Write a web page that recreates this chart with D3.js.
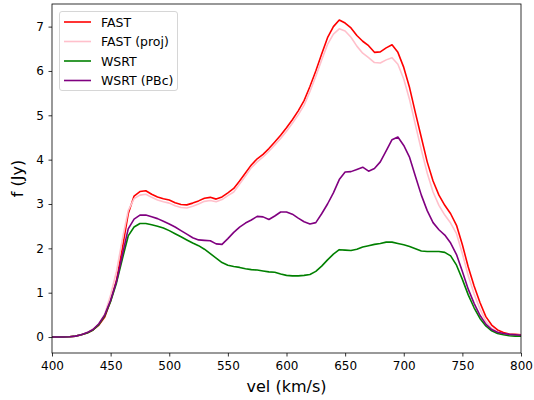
<!DOCTYPE html>
<html><head><meta charset="utf-8">
<script src="https://cdn.jsdelivr.net/npm/d3@7"></script>
<style>body{margin:0;background:#fff}svg{display:block;font-family:"DejaVu Sans",sans-serif}</style>
</head><body><svg id="c" width="534" height="400"></svg>
<script>
const vel = d3.range(400, 801, 5);
const fast = [0,0,0,0.005,0.02,0.05,0.09,0.16,0.27,0.45,0.82,1.28,2.0,2.78,3.18,3.28,3.30,3.22,3.16,3.12,3.09,3.03,2.99,2.98,3.02,3.07,3.13,3.15,3.11,3.16,3.25,3.35,3.52,3.70,3.88,4.02,4.12,4.25,4.40,4.55,4.72,4.90,5.10,5.33,5.65,6.00,6.38,6.75,7.00,7.15,7.08,6.97,6.80,6.67,6.57,6.42,6.43,6.52,6.59,6.42,6.08,5.62,5.05,4.50,3.95,3.52,3.20,2.97,2.78,2.52,2.08,1.58,1.15,0.78,0.46,0.27,0.16,0.10,0.07,0.06,0.05];
const fastProj = [0,0,0,0.005,0.02,0.05,0.10,0.18,0.30,0.52,0.95,1.48,2.2,2.85,3.12,3.20,3.22,3.15,3.09,3.05,3.02,2.96,2.92,2.91,2.95,3.00,3.06,3.08,3.05,3.10,3.19,3.27,3.45,3.63,3.82,3.95,4.06,4.19,4.33,4.48,4.64,4.82,5.01,5.23,5.54,5.88,6.25,6.60,6.83,6.95,6.90,6.76,6.56,6.40,6.30,6.19,6.18,6.25,6.30,6.15,5.82,5.35,4.78,4.22,3.70,3.27,2.97,2.75,2.57,2.33,1.88,1.38,0.97,0.63,0.36,0.20,0.11,0.07,0.05,0.04,0.04];
const wsrt = [0,0,0,0.005,0.02,0.05,0.09,0.16,0.28,0.48,0.80,1.22,1.76,2.28,2.48,2.56,2.56,2.53,2.50,2.46,2.40,2.33,2.26,2.19,2.12,2.06,1.98,1.88,1.78,1.68,1.62,1.59,1.57,1.54,1.52,1.51,1.49,1.47,1.46,1.42,1.39,1.38,1.38,1.39,1.41,1.48,1.60,1.74,1.87,1.97,1.96,1.95,1.98,2.03,2.06,2.09,2.11,2.14,2.14,2.11,2.08,2.04,1.99,1.94,1.93,1.93,1.93,1.91,1.83,1.62,1.30,0.95,0.66,0.42,0.25,0.14,0.08,0.05,0.03,0.02,0.02];
const wsrtPBc = [0,0,0,0.005,0.02,0.05,0.10,0.17,0.30,0.50,0.83,1.25,1.85,2.44,2.66,2.75,2.75,2.71,2.67,2.61,2.55,2.48,2.40,2.32,2.24,2.19,2.18,2.17,2.10,2.09,2.22,2.36,2.48,2.57,2.64,2.72,2.71,2.65,2.73,2.82,2.82,2.77,2.68,2.60,2.55,2.58,2.78,3.00,3.25,3.55,3.72,3.73,3.78,3.83,3.74,3.80,3.95,4.20,4.45,4.51,4.32,4.05,3.62,3.20,2.85,2.58,2.42,2.30,2.12,1.86,1.48,1.08,0.76,0.49,0.29,0.17,0.11,0.08,0.06,0.05,0.04];
const seriesNames = ["FAST","FAST (proj)","WSRT","WSRT (PBc)"];
const seriesColors = ["red","pink","green","purple"];
const xTicks = [400,450,500,550,600,650,700,750,800];
const yTicks = [0,1,2,3,4,5,6,7];

const svg = d3.select("#c");
const m = {l:52, r:13, t:4, b:47};
const W = 534, H = 400;
const x = d3.scaleLinear().domain([400,800]).range([m.l, W-m.r]);
const y = d3.scaleLinear().domain([-0.36,7.51]).range([H-m.b, m.t]);

const data = [fast, fastProj, wsrt, wsrtPBc];
const line = d3.line().x((d,i)=>x(vel[i])).y(d=>y(d));
const g = svg.append("g");
data.forEach((s,k)=>{
  g.append("path").datum(s).attr("d", line).attr("fill","none")
   .attr("stroke", seriesColors[k]).attr("stroke-width",1.6).attr("stroke-linejoin","round");
});

const xa = svg.append("g").attr("transform",`translate(0,${H-m.b})`)
  .call(d3.axisBottom(x).tickValues(xTicks).tickSize(3.5).tickPadding(4.5));
const ya = svg.append("g").attr("transform",`translate(${m.l},0)`)
  .call(d3.axisLeft(y).tickValues(yTicks).tickSize(3.5).tickPadding(4.5));
[xa,ya].forEach(a=>{
  a.select(".domain").remove();
  a.selectAll("text").attr("font-size","12px").attr("font-family","DejaVu Sans").attr("fill","#000");
  a.selectAll("line").attr("stroke","#000").attr("stroke-width",0.8);
});
svg.append("rect").attr("x",m.l).attr("y",m.t).attr("width",W-m.l-m.r).attr("height",H-m.t-m.b)
  .attr("fill","none").attr("stroke","#000").attr("stroke-width",0.8);

svg.append("text").attr("x",(m.l+W-m.r)/2).attr("y",392).attr("text-anchor","middle")
  .attr("font-size","16px").text("vel (km/s)");
svg.append("text").attr("transform",`translate(23,${(m.t+H-m.b)/2}) rotate(-90)`).attr("text-anchor","middle")
  .attr("font-size","16px").text("f (Jy)");

const lg = svg.append("g");
lg.append("rect").attr("x",59.5).attr("y",11.5).attr("width",118).attr("height",79).attr("rx",2.5)
  .attr("fill","#fff").attr("fill-opacity",0.8).attr("stroke","#ccc").attr("stroke-width",0.8);
seriesNames.forEach((n,k)=>{
  const yy = 22 + k*19.5;
  lg.append("line").attr("x1",64).attr("x2",91).attr("y1",yy).attr("y2",yy)
    .attr("stroke",seriesColors[k]).attr("stroke-width",1.6);
  lg.append("text").attr("x",101).attr("y",yy+4.5).attr("font-size","12.5px").text(n);
});
</script></body></html>
